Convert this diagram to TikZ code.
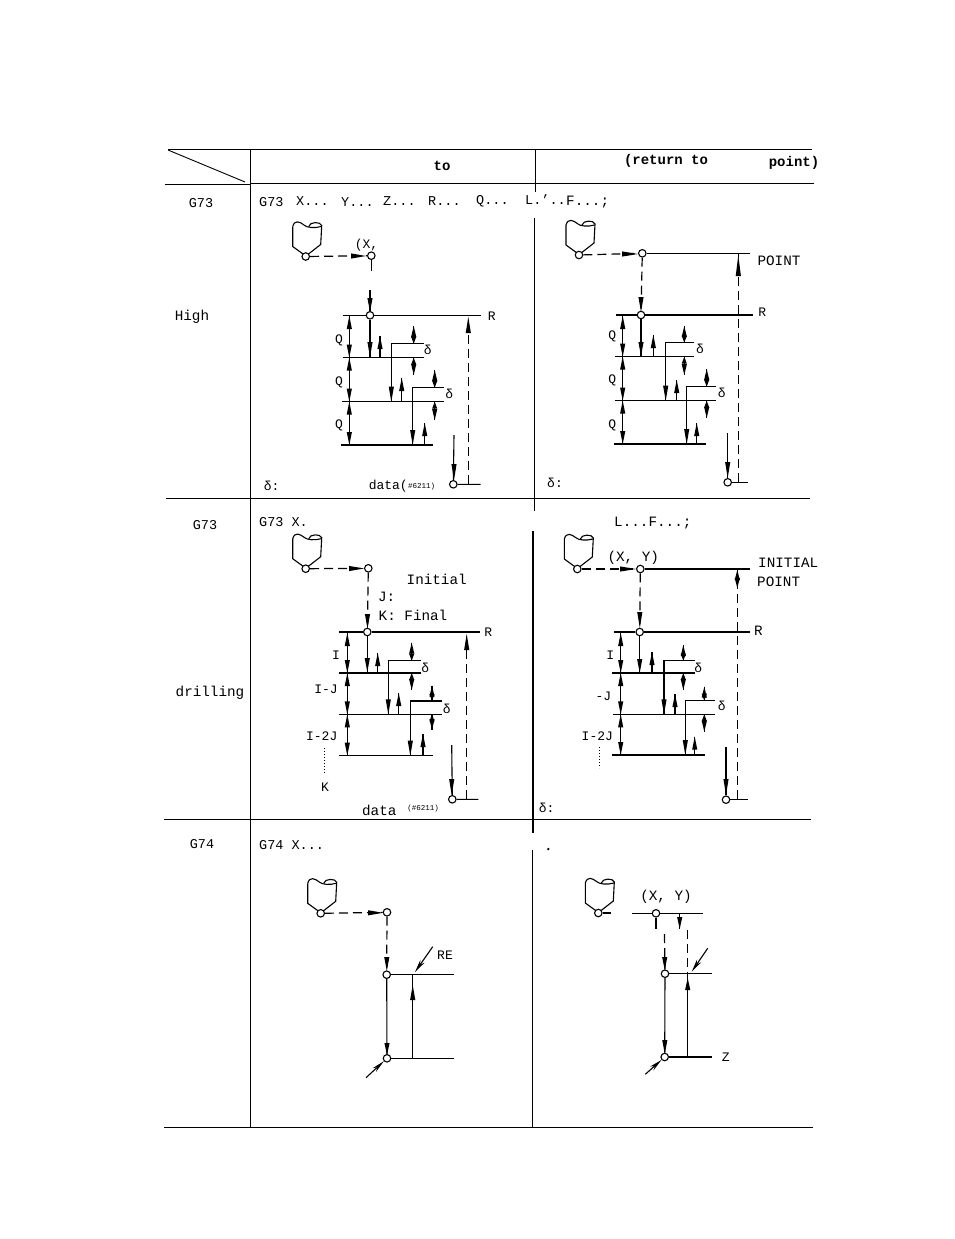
\documentclass[tikz,border=0pt]{standalone}
\usepackage{fontspec}
\setmainfont{Liberation Mono}
\usetikzlibrary{arrows.meta}
\tikzset{
  pt/.style={circle,draw=black,fill=white,line width=1.1pt,minimum size=7.5pt,inner sep=0pt},
  ln/.style={line width=1.1pt,black},
  thick rule/.style={line width=1.8pt,black},
  thin rule/.style={line width=0.9pt,black},
  dsh/.style={line width=1.2pt,black,dash pattern=on 9pt off 5pt},
  lab/.style={inner sep=0pt,font=\fontsize{13}{15}\selectfont},
  wide/.style={inner sep=0pt,font=\fontsize{14.3}{16}\selectfont},
  cod/.style={inner sep=0pt,font=\fontsize{13.5}{15}\selectfont},
  hdr/.style={inner sep=0pt,font=\fontsize{14}{16}\selectfont\bfseries},
  diag/.style={line width=1.1pt,black,-{Stealth[length=13pt,width=5pt]}},
}
% base at y1, tip at y2
\newcommand\vh[3]{\fill (#1-2.6,#2) -- (#1,#3) -- (#1+2.6,#2) -- cycle;}
\newcommand\hh[3]{\fill (#1,#3-2.6) -- (#2,#3) -- (#1,#3+2.6) -- cycle;}
% double headed vertical
\newcommand\dbl[3]{\draw[ln] (#1,#2) -- (#1,#3); \vh{#1}{#2+13}{#2}\vh{#1}{#3-13}{#3}}
% thin up arrow standing on a level
\newcommand\upar[3]{\draw[ln] (#1,#2) -- (#1,#3); \vh{#1}{#3+13}{#3}}
% retract step: x, top y, x end, bottom y
\newcommand\stp[4]{\draw[ln] (#3,#2) -- (#1,#2) -- (#1,#4); \vh{#1}{#4-15}{#4}}
% delta arrows: x, y start top, y top, y level, y end bottom
\newcommand\dlt[5]{\draw[ln] (#1,#2) -- (#1,#3); \draw[ln] (#1,#4) -- (#1,#5); \vh{#1}{#2+11}{#2}\vh{#1}{#5-11}{#5}\vh{#1}{#3-7}{#3}\vh{#1}{#4+7}{#4}}
\newcommand\tool[2]{\begin{scope}[shift={(#1,#2)},line width=1.1pt]
 \draw (-13,-30) .. controls (-11,-37) and (-6,-35) .. (-1,-31) .. controls (1,-29) and (9,-28) .. (15.5,-30);
 \draw (3,-30) .. controls (4,-35) and (15,-35) .. (16,-31) -- (15,-12) -- (1.5,-1.5);
 \draw (-13,-30) -- (-13,-10) -- (-2,-2);
\end{scope}}
\begin{document}
\begin{tikzpicture}[x=1pt,y=-1pt]
\useasboundingbox (0,0) rectangle (954,1239);
\fill[white] (0,0) rectangle (954,1239);
% ---- table rules
\draw[thin rule] (168,149.5) -- (245,149.5);
\draw[thick rule] (245,149.5) -- (812,149.5);
\draw[thin rule] (168,150) -- (245,182);
\draw[thin rule] (165,184) -- (250,184);
\draw[thick rule] (250,183.5) -- (814,183.5);
\draw[thin rule] (250.5,149) -- (250.5,1127);
\draw[thin rule] (535.5,149) -- (535.5,192);
\draw[thin rule] (166,498.5) -- (810,498.5);
\draw[thin rule] (164,819.5) -- (811,819.5);
\draw[thin rule] (164,1127) -- (813,1127);
\draw[thin rule] (534.5,218) -- (534.5,460);
\draw[line width=1.4pt] (534.5,460) -- (534.5,498);
\draw[thin rule] (534.5,498) -- (534.5,511);
\draw[line width=1.4pt] (533,531) -- (533,833);
\draw[thin rule] (532.5,850) -- (532.5,1127);
\fill (548.3,849) circle (1.3pt);
% ---- header and row labels
\node[hdr] (h1) at (442,166) {to};
\node[hdr] (h2) at (666,161) {(return to};
\node[hdr] (h3) at (794,163) {point)};
\node[cod] (r1) at (201,203) {G73};
\node[wide] (r2) at (192,317) {High};
\node[cod] (r3) at (205,525) {G73};
\node[wide] (r4) at (210,693) {drilling};
\node[cod] (r5) at (202,844) {G74};
% ---- code lines
\node[cod,anchor=west] (c1) at (259,202) {G73};
\node[cod,anchor=west] (c2) at (296,201) {X...};
\node[cod,anchor=west] (c3) at (341,202) {Y...};
\node[cod,anchor=west] (c4) at (383,201) {Z...};
\node[cod,anchor=west] (c5) at (428,201) {R...};
\node[cod,anchor=west] (c6) at (476,201) {Q...};
\node[cod,anchor=west] (c7) at (525,200) {L.'..};
\node[wide,anchor=west] (c8) at (566,202) {F...;};
\node[cod,anchor=west] (c9) at (259,522) {G73 X.};
\node[wide,anchor=west] (c10) at (614,523) {L...F...;};
\node[cod,anchor=west] (c11) at (259,845) {G74 X...};

% ---- panel A
\tool{305.7}{256.5}
\node[pt] (a0) at (305.7,256.5) {};
\node[pt] (a1) at (371.3,255.7) {};
\node[pt] (a2) at (370,315.3) {};
\node[pt] (a3) at (453.3,484.3) {};
\coordinate (a1b) at (371.3,271);
\coordinate (a2t) at (370,290);
\draw[dsh] (a0) -- (a1);
\hh{351}{366}{256}
\draw[ln] (a1) -- (a1b);
\draw[ln] (a2t) -- (a2);
\vh{370}{298}{312}
\draw[ln] (342.7,315.3) -- (a2) -- (480.7,315.3);
\draw[ln] (342.7,357.7) -- (424,357.7);
\draw[ln] (342.3,401.7) -- (444,401.7);
\draw[ln] (340.7,445) -- (433.3,445);
\dbl{349.3}{316}{357.7}\dbl{349.3}{357.7}{401.7}\dbl{349.3}{401.7}{445}
\draw[ln] (a2) -- (370,357.7); \vh{370}{342}{357}
\upar{380}{357.7}{336}
\stp{391.3}{343.7}{424}{401.7}\upar{401.7}{401.7}{378}
\dlt{413.7}{326}{343.7}{357.7}{375}
\stp{412.7}{387.7}{444}{445}\upar{424.7}{445}{423}
\dlt{434.7}{370}{387.7}{401.7}{420}
\draw[ln] (454,435) -- (a3) -- (480.7,484.3); \vh{454}{464}{480}
\draw[dsh] (468.3,484) -- (468.3,316); \vh{468.3}{333}{317}
\node[lab] (a4) at (491.7,316.7) {R};
\node[lab] (a5) at (339,340) {Q};
\node[lab] (a6) at (339,382.7) {Q};
\node[lab] (a7) at (339,425) {Q};
\node[lab] (a8) at (427.7,350) {δ};
\node[lab] (a9) at (449.3,394) {δ};
\node[lab] (a10) at (366.5,245) {(X,};
\node[lab] (a11) at (271.7,486) {δ:};
\node[lab,anchor=east] (a12) at (408,486) {data(};
\node[lab,anchor=west,font=\fontsize{7.5}{9}\selectfont] (a13) at (408,486.5) {\#6211)};

% ---- panel B
\tool{579}{255}
\node[pt] (b0) at (579,255) {};
\node[pt] (b1) at (642.3,253.3) {};
\node[pt] (b2) at (641,315) {};
\node[pt] (b3) at (727.7,482.3) {};
\draw[dsh] (b0) -- (b1);
\hh{622}{638}{254}
\draw[ln] (b1) -- (750,253.3);
\draw[dsh] (b1) -- (b2); \vh{641}{297}{312}
\draw[ln] (616,315) -- (b2) -- (753.3,315);
\draw[ln] (615,356.7) -- (694.3,356.7);
\draw[ln] (615,400.7) -- (716,400.7);
\draw[ln] (614.3,444) -- (706.3,444);
\dbl{622.7}{316}{356.7}\dbl{622.7}{356.7}{400.7}\dbl{622.7}{400.7}{444}
\draw[ln] (b2) -- (641,356.7); \vh{641}{342}{356}
\upar{653.3}{356.7}{335}
\stp{665.7}{342.7}{694.3}{400.7}\upar{676.7}{400.7}{380}
\dlt{684.3}{326}{342.7}{356.7}{375}
\stp{686.7}{386.7}{716}{444}\upar{696.7}{444}{423}
\dlt{706.7}{369}{386.7}{400.7}{418}
\draw[ln] (727.7,433.3) -- (b3) -- (748.3,482.3); \vh{727.7}{462}{478}
\draw[dsh] (738.3,482) -- (738.3,254); \vh{738.3}{276}{255}
\node[wide] (b4) at (779,261) {POINT};
\node[lab] (b5) at (762.3,312.7) {R};
\node[lab] (b6) at (612.3,336.7) {Q};
\node[lab] (b7) at (612.3,380) {Q};
\node[lab] (b8) at (612.3,425) {Q};
\node[lab] (b9) at (700,349.3) {δ};
\node[lab] (b10) at (721.7,392.7) {δ};
\node[lab] (b11) at (555,482.7) {δ:};

% ---- panel C
\tool{305.7}{568.7}
\node[pt] (d0) at (305.7,568.7) {};
\node[pt] (d1) at (368.3,568.3) {};
\node[pt] (d2) at (367.3,632) {};
\node[pt] (d3) at (452.3,799.3) {};
\draw[dsh] (d0) -- (d1);
\hh{349}{364}{568.5}
\draw[dsh] (d1) -- (d2); \vh{367.5}{614}{629}
\draw[ln] (339.3,632) -- (d2) -- (480,632);
\draw[ln] (339.3,673) -- (420.7,673);
\draw[ln] (339.3,714.3) -- (442.3,714.3);
\draw[ln] (339.3,755.7) -- (432.7,755.7);
\dbl{347.3}{633}{673}\dbl{347.3}{673}{714.3}\dbl{347.3}{714.3}{755.7}
\draw[ln] (d2) -- (367.3,673); \vh{367.3}{658}{672}
\upar{377.7}{673}{653}
\stp{388.3}{660.7}{420.7}{714.3}\upar{398.7}{714.3}{693}
\dlt{411.7}{642.7}{660.7}{673}{690}
\stp{410.3}{701}{442.3}{755.7}\upar{423}{755.7}{734}
\dlt{432}{685.7}{701}{714.3}{730}
\draw[ln] (451.7,745) -- (d3) -- (478.3,799.3); \vh{451.7}{779}{795}
\draw[dsh] (466.7,799) -- (466.7,633); \vh{466.7}{650}{634}
\node[lab] (d4) at (488.3,632.3) {R};
\node[wide] (d5) at (436.7,579) {Initial};
\node[wide] (d6) at (386.7,597) {J:};
\node[wide] (d7) at (413,615) {K: Final};
\node[lab] (d8) at (336,655.7) {I};
\node[lab] (d9) at (326,689) {I-J};
\node[lab] (d10) at (321.7,736.7) {I-2J};
\node[lab] (d11) at (325,787.3) {K};
\draw[line width=0.7pt,dash pattern=on 1pt off 2pt] (324,748) -- (324,773);
\node[lab] (d12) at (425.3,668.3) {δ};
\node[lab] (d13) at (446.7,709) {δ};
\node[wide] (d14) at (379.3,810) {data};
\node[lab,font=\fontsize{7.5}{9}\selectfont] (d15) at (423,809) {(\#6211)};

% ---- panel D
\tool{577.3}{569}
\node[pt] (e0) at (577.3,569) {};
\node[pt] (e1) at (640.3,569) {};
\node[pt] (e2) at (639.7,632) {};
\node[pt] (e3) at (726,799.7) {};
\draw[dsh] (e0) -- (e1);
\hh{620}{636}{569}
\draw[ln] (e1) -- (750,569);
\draw[dsh] (e1) -- (e2); \vh{639.8}{612}{628}
\draw[ln] (614.3,632) -- (e2) -- (750,632);
\draw[ln] (612.3,673) -- (695,673);
\draw[ln] (613.3,714.3) -- (715,714.3);
\draw[ln] (612.3,755) -- (705,755);
\dbl{620.7}{633}{673}\dbl{620.7}{673}{714.3}\dbl{620.7}{714.3}{755}
\draw[ln] (e2) -- (639.7,673); \vh{639.7}{659}{673}
\upar{652}{673}{652}
\stp{664}{660.7}{695}{714.3}\upar{675}{714.3}{694}
\dlt{683.3}{645}{660.7}{673}{690}
\stp{685.3}{700.7}{715}{755}\upar{694.7}{755}{736.7}
\dlt{704.3}{686.7}{700.7}{714.3}{731.7}
\draw[ln] (726,746.7) -- (e3) -- (748.3,799.7); \vh{726}{779}{795}
\draw[dsh] (737.3,799) -- (737.3,570); \vh{737.3}{578}{588}\vh{737.3}{580}{570}
\node[wide] (e4) at (633.3,557.7) {(X, Y)};
\node[wide,anchor=west] (e5) at (758,562.3) {INITIAL};
\node[wide,anchor=west] (e6) at (757,581.7) {POINT};
\node[wide] (e7) at (758.3,630.7) {R};
\node[lab] (e8) at (610.3,655.7) {I};
\node[lab] (e9) at (603.3,696.7) {-J};
\node[lab] (e10) at (597.3,736) {I-2J};
\draw[line width=0.7pt,dash pattern=on 1pt off 2pt] (599.3,747) -- (599.3,768);
\node[lab] (e11) at (698.3,668.3) {δ};
\node[lab] (e12) at (721.7,706) {δ};
\node[lab] (e13) at (546.7,807.7) {δ:};

% ---- panel E
\tool{320.7}{913.3}
\node[pt] (f0) at (320.7,913.3) {};
\node[pt] (f1) at (387,912.3) {};
\node[pt] (f2) at (386.7,974.7) {};
\node[pt] (f3) at (387,1058.3) {};
\draw[dsh] (f0) -- (f1);
\hh{368}{383}{912.8}
\draw[dsh] (f1) -- (f2); \vh{386.8}{957}{971}
\draw[ln] (f2) -- (f3); \vh{387}{1043}{1055}
\draw[ln] (f2) -- (454,974.7);
\draw[ln] (f3) -- (454,1058.3);
\draw[ln] (412.7,1058.3) -- (412.7,975); \vh{412.7}{1000}{985}
\coordinate (f4) at (432.7,946.7); \coordinate (f5) at (415,972);
\draw[diag] (f4) -- (f5);
\coordinate (f6) at (366,1077.7);
\draw[diag] (f6) -- (f3);
\node[lab] (f7) at (445,955.7) {RE};

% ---- panel F
\tool{598.3}{913}
\node[pt] (g0) at (598.3,913) {};
\node[pt] (g1) at (656,913.3) {};
\node[pt] (g2) at (665,973.7) {};
\node[pt] (g3) at (664.7,1057) {};
\draw[ln] (g0) -- (611,913);
\draw[ln] (632.3,913.3) -- (g1) -- (702.7,913.3);
\draw[ln] (g1) -- (656,929);
\draw[dsh] (664.5,934) -- (g2); \vh{664.7}{957}{970}
\draw[dsh] (687.7,930) -- (687.7,973.7);
\draw[ln] (679.7,913.3) -- (679.7,929); \vh{679.7}{917}{929}
\draw[ln] (g2) -- (711.7,973.7);
\draw[ln] (g2) -- (g3); \vh{664.8}{1040}{1054}
\draw[ln] (g3) -- (711.7,1057);
\draw[ln] (687.7,1057) -- (687.7,974); \vh{687.7}{990}{978}
\coordinate (g4) at (707.7,948.3); \coordinate (g5) at (691.7,971.7);
\draw[diag] (g4) -- (g5);
\coordinate (g6) at (645.3,1074.3);
\draw[diag] (g6) -- (g3);
\node[wide] (g7) at (666,896.7) {(X, Y)};
\node[lab] (g8) at (725.7,1057) {Z};
\end{tikzpicture}
\end{document}
